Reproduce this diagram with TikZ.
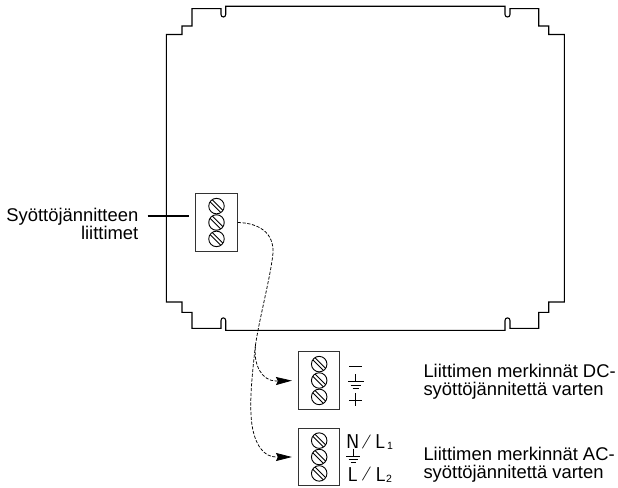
\documentclass[tikz,border=0pt]{standalone}
\usepackage{graphicx}
\usepackage{fontspec}
\setmainfont{Liberation Sans}
\usetikzlibrary{positioning,arrows.meta}
\begin{document}
\begin{tikzpicture}[x=1pt,y=-1pt]
			
			\tikzstyle{terminal} = [rectangle, minimum width=41.5pt, minimum height=57.5pt, inner sep=0pt, draw=black!80, line width=1pt]
			\tikzstyle{screw} = [circle, minimum size=15.5pt, inner sep=0pt, draw=black, line width=0.9pt, path picture={
				\draw [line width=0.9pt] ([xshift=2.2pt]path picture bounding box.north west) -- ([yshift=2.2pt]path picture bounding box.south east);
				\draw [line width=0.9pt] ([yshift=-2.2pt]path picture bounding box.north west) -- ([xshift=-2.2pt]path picture bounding box.south east);}]
			\tikzstyle{caption} = [inner sep=0pt, font=\fontsize{18.4}{18.5}\selectfont]
			\tikzstyle{legend} = [inner sep=0pt, font=\fontsize{20}{20}\sffamily]
			\tikzstyle{index} = [inner sep=0pt, font=\fontsize{10.5}{11}\selectfont]
			\tikzstyle{wire} = [dashed, dash pattern=on 3.2pt off 1.6pt, line width=0.75pt]
			\tikzstyle{arrow} = [wire, -{Stealth[length=16pt,width=8pt,inset=2pt]}, shorten >=6pt]
			\tikzstyle{symbol} = [line width=0.8pt]
			
			\useasboundingbox (0,0) rectangle (618,487);
			
			% board outline
			\draw [line width=1.1pt] (166.3,34.5) -- (182,34.5) -- (182,26) -- (192,26) -- (192,8.7) -- (221,8.7) -- (221,14.5)
				.. controls (221,17.8) and (225.7,17.8) .. (225.7,14.5) -- (225.7,6.3) -- (505,6.3) -- (505,14.5)
				.. controls (505,17.8) and (510,17.8) .. (510,14.5) -- (510,8.7) -- (538.7,8.7) -- (538.7,26) -- (548.7,26) -- (548.7,34.5) -- (564.3,34.5)
				-- (564.3,302) -- (548.7,302) -- (548.7,312.3) -- (538.7,312.3) -- (538.7,328.3) -- (510,328.3) -- (510,320.5)
				.. controls (510,317) and (505,317) .. (505,320.5) -- (505,330.3) -- (225.7,330.3) -- (225.7,320.5)
				.. controls (225.7,317) and (221,317) .. (221,320.5) -- (221,328.3) -- (192,328.3) -- (192,312.3) -- (182,312.3) -- (182,302) -- (166.3,302) -- cycle;
			
			% terminal blocks
			\foreach \term/\xpos/\ypos in {termmain/216.5/222.5, termdc/319.2/380.5, termac/319.2/457} {
				\node (\term) [terminal] at (\xpos,\ypos) {};
				\node (\term-b) [screw] at (\term) {};
				\node (\term-a) [screw, above=0pt of \term-b] {};
				\node (\term-c) [screw, below=0pt of \term-b] {};
			}
			
			% labels
			\node (supply) [caption, align=right, anchor=east] at (138.5,224) {Syöttöjännitteen\\liittimet};
			\node (dcnote) [caption, align=left, anchor=west] at (423.3,381.5) {Liittimen merkinnät DC-\\syöttöjännitettä varten};
			\node (acnote) [caption, align=left, anchor=west] at (423.3,464.5) {Liittimen merkinnät AC-\\syöttöjännitettä varten};
			
			% leader
			\coordinate (leadstart) at (147.7,215.7);
			\coordinate (leadend) at (189,215.7);
			\draw [line width=1.8pt] (leadstart) -- (leadend);
			
			% wiring
			\coordinate (split) at (255.5,345);
			\draw [arrow] (termmain.east) .. controls (258,223) and (274,232) .. (273,253) .. controls (271,275) and (259,320) .. (split)
				.. controls (253,365) and (262,381) .. (276,381) -- (termdc.west);
			\draw [arrow] (split) .. controls (252,375) and (249,405) .. (252,425) .. controls (255,445) and (264,457) .. (276,457) -- (termac.west);
			
			% dc markings
			\draw [symbol] (349.3,366) -- (361.7,366);
			\draw [symbol] (355.7,374) -- (355.7,381.7);
			\draw [symbol] (348,381.7) -- (363.5,381.7);
			\draw [symbol] (350.5,385) -- (361,385);
			\draw [symbol] (352.5,388) -- (359,388);
			\draw [symbol] (349.3,400) -- (362,400);
			\draw [symbol] (355.7,393.3) -- (355.7,405.7);
			
			% ac markings
			\node (linea) [legend, anchor=base west] at (346,448.5) {N\kern1.5pt\raisebox{3.5pt}{\scalebox{1.2}[0.7]{/}}\kern3pt L};
			\node (onea) [index, anchor=base west] at (387,449.3) {1};
			\node (lineb) [legend, anchor=base west] at (347.5,481) {L\kern3pt\raisebox{3.5pt}{\scalebox{1.2}[0.7]{/}}\kern3.5pt L};
			\node (twob) [index, anchor=base west] at (386,482.3) {2};
			\draw [symbol] (353.3,448.5) -- (353.3,456.7);
			\draw [symbol] (346,456.7) -- (360.3,456.7);
			\draw [symbol] (348.5,459.7) -- (358,459.7);
			\draw [symbol] (350.5,462.7) -- (356,462.7);
			
		\end{tikzpicture}
\end{document}
